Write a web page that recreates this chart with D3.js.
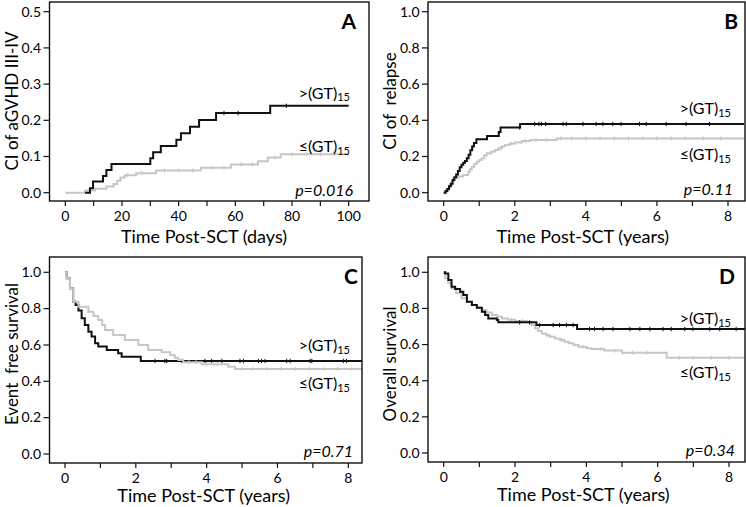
<!DOCTYPE html>
<html lang="en">
<head>
<meta charset="UTF-8">
<title>GT repeat panels</title>
<script src="https://cdnjs.cloudflare.com/ajax/libs/d3/7.8.5/d3.min.js"></script>
<style>
  body { margin: 0; background: #fff; }
  svg { display: block; font-family: Lato, "Open Sans", sans-serif; }
</style>
</head>
<body>
<svg id="chart" width="746" height="507"></svg>
<script>
// ---- data ----
const panelLetters = ["A", "B", "C", "D"];
const yTitles = ["CI of aGVHD III-IV", "CI of  relapse", "Event  free survival", "Overall survival"];
const xTitles = ["Time Post-SCT (days)", "Time Post-SCT (years)", "Time Post-SCT (years)", "Time Post-SCT (years)"];
const pTexts = ["p=0.016", "p=0.11", "p=0.71", "p=0.34"];
const xTicksDays = [0, 20, 40, 60, 80, 100];
const xMinorDays = [10, 30, 50, 70, 90];
const xTicksYears = [0, 2, 4, 6, 8];
const xMinorYears = [1, 3, 5, 7];
const yTicksA = [0, 0.1, 0.2, 0.3, 0.4, 0.5];
const yTicksOther = [0, 0.2, 0.4, 0.6, 0.8, 1.0];

// A: cumulative incidence aGVHD III-IV, days
const aHigh = [[7,0],[8.7,0.012],[9.8,0.031],[13.3,0.046],[14.5,0.063],[16.3,0.079],[30,0.095],[31,0.112],
  [33.7,0.129],[39.2,0.146],[40.8,0.164],[44,0.182],[47.2,0.201],[53.2,0.220],[72.3,0.240]];
const aLow = [[0,0],[7,0.006],[10.5,0.011],[14.5,0.017],[17,0.024],[18.3,0.033],[19.5,0.042],[21,0.048],
  [25,0.054],[32,0.061],[47.8,0.069],[58.5,0.078],[68,0.087],[71.5,0.097],[76,0.106]];
const aHighCens = [56, 61, 78];
const aLowCens = [22, 27, 35, 40, 45, 52, 56, 62, 66, 74, 80, 85, 90, 95];

// B: cumulative incidence of relapse, years
const bHigh = [[0,0],[0.05,0.01],[0.1,0.02],[0.15,0.035],[0.2,0.05],[0.25,0.07],[0.3,0.085],[0.35,0.1],
  [0.4,0.12],[0.45,0.14],[0.5,0.155],[0.55,0.165],[0.6,0.175],[0.65,0.19],[0.7,0.21],[0.75,0.235],
  [0.8,0.255],[0.85,0.275],[0.92,0.295],[1.22,0.313],[1.55,0.335],[1.6,0.36],[2.15,0.38]];
const bLow = [[0,0],[0.08,0.012],[0.14,0.03],[0.18,0.043],[0.23,0.062],[0.27,0.08],[0.4,0.09],[0.55,0.098],
  [0.69,0.116],[0.74,0.13],[0.79,0.144],[0.86,0.158],[0.93,0.171],[1.0,0.18],[1.07,0.19],[1.14,0.205],
  [1.21,0.218],[1.35,0.227],[1.45,0.236],[1.54,0.245],[1.63,0.255],[1.72,0.264],[1.85,0.271],[2.0,0.278],
  [2.2,0.285],[2.43,0.291],[3.18,0.3]];
const bHighCens = [2.14, 2.56, 2.68, 2.75, 2.87, 3.36, 3.45, 3.92, 4.29, 4.48, 4.76, 4.99, 5.51, 5.7, 6.26, 6.82, 7.48];
const bLowCens = [1.3, 1.6, 1.9, 2.3, 2.6, 2.9, 3.3, 3.6, 4.0, 4.4, 4.8, 5.2, 5.6, 6.0, 6.4, 6.8, 7.3, 7.8];

// C: event free survival, years
const cHigh = [[0,1],[0.05,0.967],[0.14,0.912],[0.23,0.838],[0.3,0.82],[0.38,0.79],[0.47,0.747],[0.56,0.71],
  [0.66,0.673],[0.75,0.646],[0.85,0.609],[0.94,0.591],[1.18,0.573],[1.5,0.554],[1.6,0.535],[2.14,0.512]];
const cLow = [[0,1],[0.05,0.967],[0.14,0.912],[0.23,0.838],[0.38,0.81],[0.66,0.783],[0.8,0.76],[0.94,0.737],
  [1.05,0.71],[1.13,0.682],[1.36,0.655],[1.69,0.627],[2.07,0.6],[2.35,0.573],[2.73,0.56],[2.97,0.545],
  [3.1,0.53],[3.2,0.517],[3.34,0.505],[3.86,0.494],[4.61,0.48],[4.8,0.468]];
const cHighCens = [2.54, 2.82, 2.87, 3.3, 3.95, 4.14, 4.43, 4.94, 5.04, 5.46, 5.55, 5.65, 6.26, 6.36, 6.92, 6.97, 7.86, 7.95];
const cLowCens = [3.5, 3.7, 4.0, 4.3, 5.0, 5.3, 5.7, 6.1, 6.5, 6.9, 7.3, 7.7, 8.1];

// D: overall survival, years
const dHigh = [[0,1],[0.04,0.994],[0.13,0.957],[0.22,0.92],[0.32,0.908],[0.46,0.893],[0.55,0.874],[0.65,0.837],
  [0.79,0.819],[0.93,0.804],[1.07,0.782],[1.16,0.764],[1.25,0.745],[1.49,0.736],[1.53,0.723],[2.6,0.708],[3.74,0.686]];
const dLow = [[0,1],[0.04,0.967],[0.13,0.94],[0.22,0.911],[0.35,0.885],[0.5,0.856],[0.65,0.835],[0.79,0.819],
  [0.93,0.805],[1.07,0.791],[1.2,0.778],[1.35,0.764],[1.5,0.754],[1.63,0.745],[1.8,0.737],[2.0,0.73],
  [2.33,0.723],[2.47,0.708],[2.56,0.69],[2.65,0.675],[2.75,0.662],[2.87,0.652],[2.98,0.643],[3.12,0.634],
  [3.26,0.625],[3.38,0.616],[3.5,0.607],[3.64,0.598],[3.78,0.588],[4.0,0.58],[4.15,0.575],[4.5,0.567],
  [5.0,0.555],[6.25,0.527]];
const dHighCens = [2.13, 2.41, 2.69, 3.07, 3.25, 3.44, 3.63, 4.09, 4.23, 4.47, 4.75, 5.22, 5.5, 5.78, 6.15, 6.38, 6.76, 6.99, 7.46, 7.74, 8.2];
const dLowCens = [1.5, 1.9, 2.2, 2.9, 3.3, 3.9, 4.4, 4.8, 5.3, 5.7, 6.6, 7.0, 7.5, 8.0];

// ---- layout ----
const panels = [
  { frame: [49.5, 2, 369, 201], xd: [0, 100], xr: [65.3, 348.7], yd: [0, 0.5], yr: [192.7, 11.7],
    xt: xTicksDays, xm: xMinorDays, yt: yTicksA, fmt: d3.format(".1f"),
    hi: aHigh, lo: aLow, hiC: aHighCens, loC: aLowCens, end: 100, grayTop: false,
    letterX: 356, hiY: 98.5, loY: 152, labX: 350, pX: 353, pY: 196, titleDy: 42, yTitleY: 101 },
  { frame: [428, 2, 745, 201], xd: [0, 8], xr: [443.7, 728], yd: [0, 1], yr: [192.7, 11.7],
    xt: xTicksYears, xm: xMinorYears, yt: yTicksOther, fmt: d3.format(".1f"),
    hi: bHigh, lo: bLow, hiC: bHighCens, loC: bLowCens, end: 8.45, grayTop: false,
    letterX: 738, hiY: 114, loY: 160, labX: 731, pX: 733, pY: 195, titleDy: 42, yTitleY: 101 },
  { frame: [49.5, 257, 362, 463], xd: [0, 8], xr: [65, 348.3], yd: [0, 1], yr: [454, 272.3],
    xt: xTicksYears, xm: xMinorYears, yt: yTicksOther, fmt: d3.format(".1f"),
    hi: cHigh, lo: cLow, hiC: cHighCens, loC: cLowCens, end: 8.39, grayTop: true,
    letterX: 358, hiY: 351, loY: 389, labX: 350, pX: 353, pY: 457, titleDy: 39, yTitleY: 354 },
  { frame: [428, 257, 745, 462], xd: [0, 8], xr: [443.7, 729], yd: [0, 1], yr: [453, 272.3],
    xt: xTicksYears, xm: xMinorYears, yt: yTicksOther, fmt: d3.format(".1f"),
    hi: dHigh, lo: dLow, hiC: dHighCens, loC: dLowCens, end: 8.45, grayTop: false,
    letterX: 735, hiY: 324, loY: 378, labX: 731, pX: 735, pY: 456, titleDy: 39, yTitleY: 364 }
];

const svg = d3.select("#chart");
const BLACK = "#111", GRAY = "#c6c6c6";

function stepValue(series, t) {
  let v = series[0][1];
  for (const p of series) if (p[0] <= t) v = p[1];
  return v;
}

panels.forEach((p, i) => {
  const [x0, y0, x1, y1] = p.frame;
  const x = d3.scaleLinear().domain(p.xd).range(p.xr);
  const y = d3.scaleLinear().domain(p.yd).range(p.yr);
  const g = svg.append("g");

  // curves
  const line = d3.line().x(d => x(d[0])).y(d => y(d[1])).curve(d3.curveStepAfter);
  const drawCurve = (series, cens, color) => {
    const pts = series.concat([[p.end, series[series.length - 1][1]]]);
    g.append("path").attr("d", line(pts)).attr("fill", "none")
      .attr("stroke", color).attr("stroke-width", 2).attr("stroke-linejoin", "miter");
    g.selectAll(null).data(cens).enter().append("line")
      .attr("x1", d => x(d)).attr("x2", d => x(d))
      .attr("y1", d => y(stepValue(series, d)) - 2.2)
      .attr("y2", d => y(stepValue(series, d)) + 2.2)
      .attr("stroke", color).attr("stroke-width", 1);
  };
  if (p.grayTop) {
    drawCurve(p.hi, p.hiC, BLACK);
    drawCurve(p.lo, p.loC, GRAY);
  } else {
    drawCurve(p.lo, p.loC, GRAY);
    drawCurve(p.hi, p.hiC, BLACK);
  }

  // frame
  g.append("rect").attr("x", x0).attr("y", y0).attr("width", x1 - x0).attr("height", y1 - y0)
    .attr("fill", "none").attr("stroke", "#111").attr("stroke-width", 1.4);

  // y axis
  g.selectAll(null).data(p.yt).enter().append("line")
    .attr("x1", x0 - 6).attr("x2", x0).attr("y1", d => y(d)).attr("y2", d => y(d))
    .attr("stroke", "#111").attr("stroke-width", 1.2);
  g.selectAll(null).data(p.yt).enter().append("text")
    .attr("x", x0 - 8.5).attr("y", d => y(d) + 4.8).attr("text-anchor", "end")
    .attr("font-size", 14).attr("fill", "#000").text(d => p.fmt(d));

  // x axis
  g.selectAll(null).data(p.xt.concat(p.xm)).enter().append("line")
    .attr("x1", d => x(d)).attr("x2", d => x(d)).attr("y1", y1).attr("y2", y1 + 5)
    .attr("stroke", "#111").attr("stroke-width", 1.2);
  g.selectAll(null).data(p.xt).enter().append("text")
    .attr("x", d => x(d)).attr("y", y1 + 19.5).attr("text-anchor", "middle")
    .attr("font-size", 14).attr("fill", "#000").text(d => d);

  // titles
  g.append("text").attr("x", (p.xr[0] + p.xr[1]) / 2 - 3).attr("y", y1 + p.titleDy)
    .attr("text-anchor", "middle").attr("font-size", 18).attr("fill", "#000").text(xTitles[i]);
  g.append("text")
    .attr("transform", `translate(${x0 - 32},${p.yTitleY}) rotate(-90)`)
    .attr("text-anchor", "middle").attr("font-size", 17).attr("fill", "#000")
    .style("white-space", "pre").text(yTitles[i]);

  // panel letter
  g.append("text").attr("x", p.letterX).attr("y", y0 + 27).attr("text-anchor", "end")
    .attr("font-size", 21).attr("font-weight", "bold").attr("fill", "#000").text(panelLetters[i]);

  // group labels
  [[">(GT)", p.hiY], ["\u2264(GT)", p.loY]].forEach(([lab, ly]) => {
    const t = g.append("text").attr("x", p.labX).attr("y", ly).attr("text-anchor", "end")
      .attr("font-size", 16).attr("fill", "#000");
    t.append("tspan").text(lab);
    t.append("tspan").attr("dy", 2.5).attr("font-size", 11).text("15");
  });

  g.append("text").attr("x", p.pX).attr("y", p.pY).attr("text-anchor", "end")
    .attr("font-size", 16).attr("font-style", "italic").attr("fill", "#000").text(pTexts[i]);
});
</script>
</body>
</html>
